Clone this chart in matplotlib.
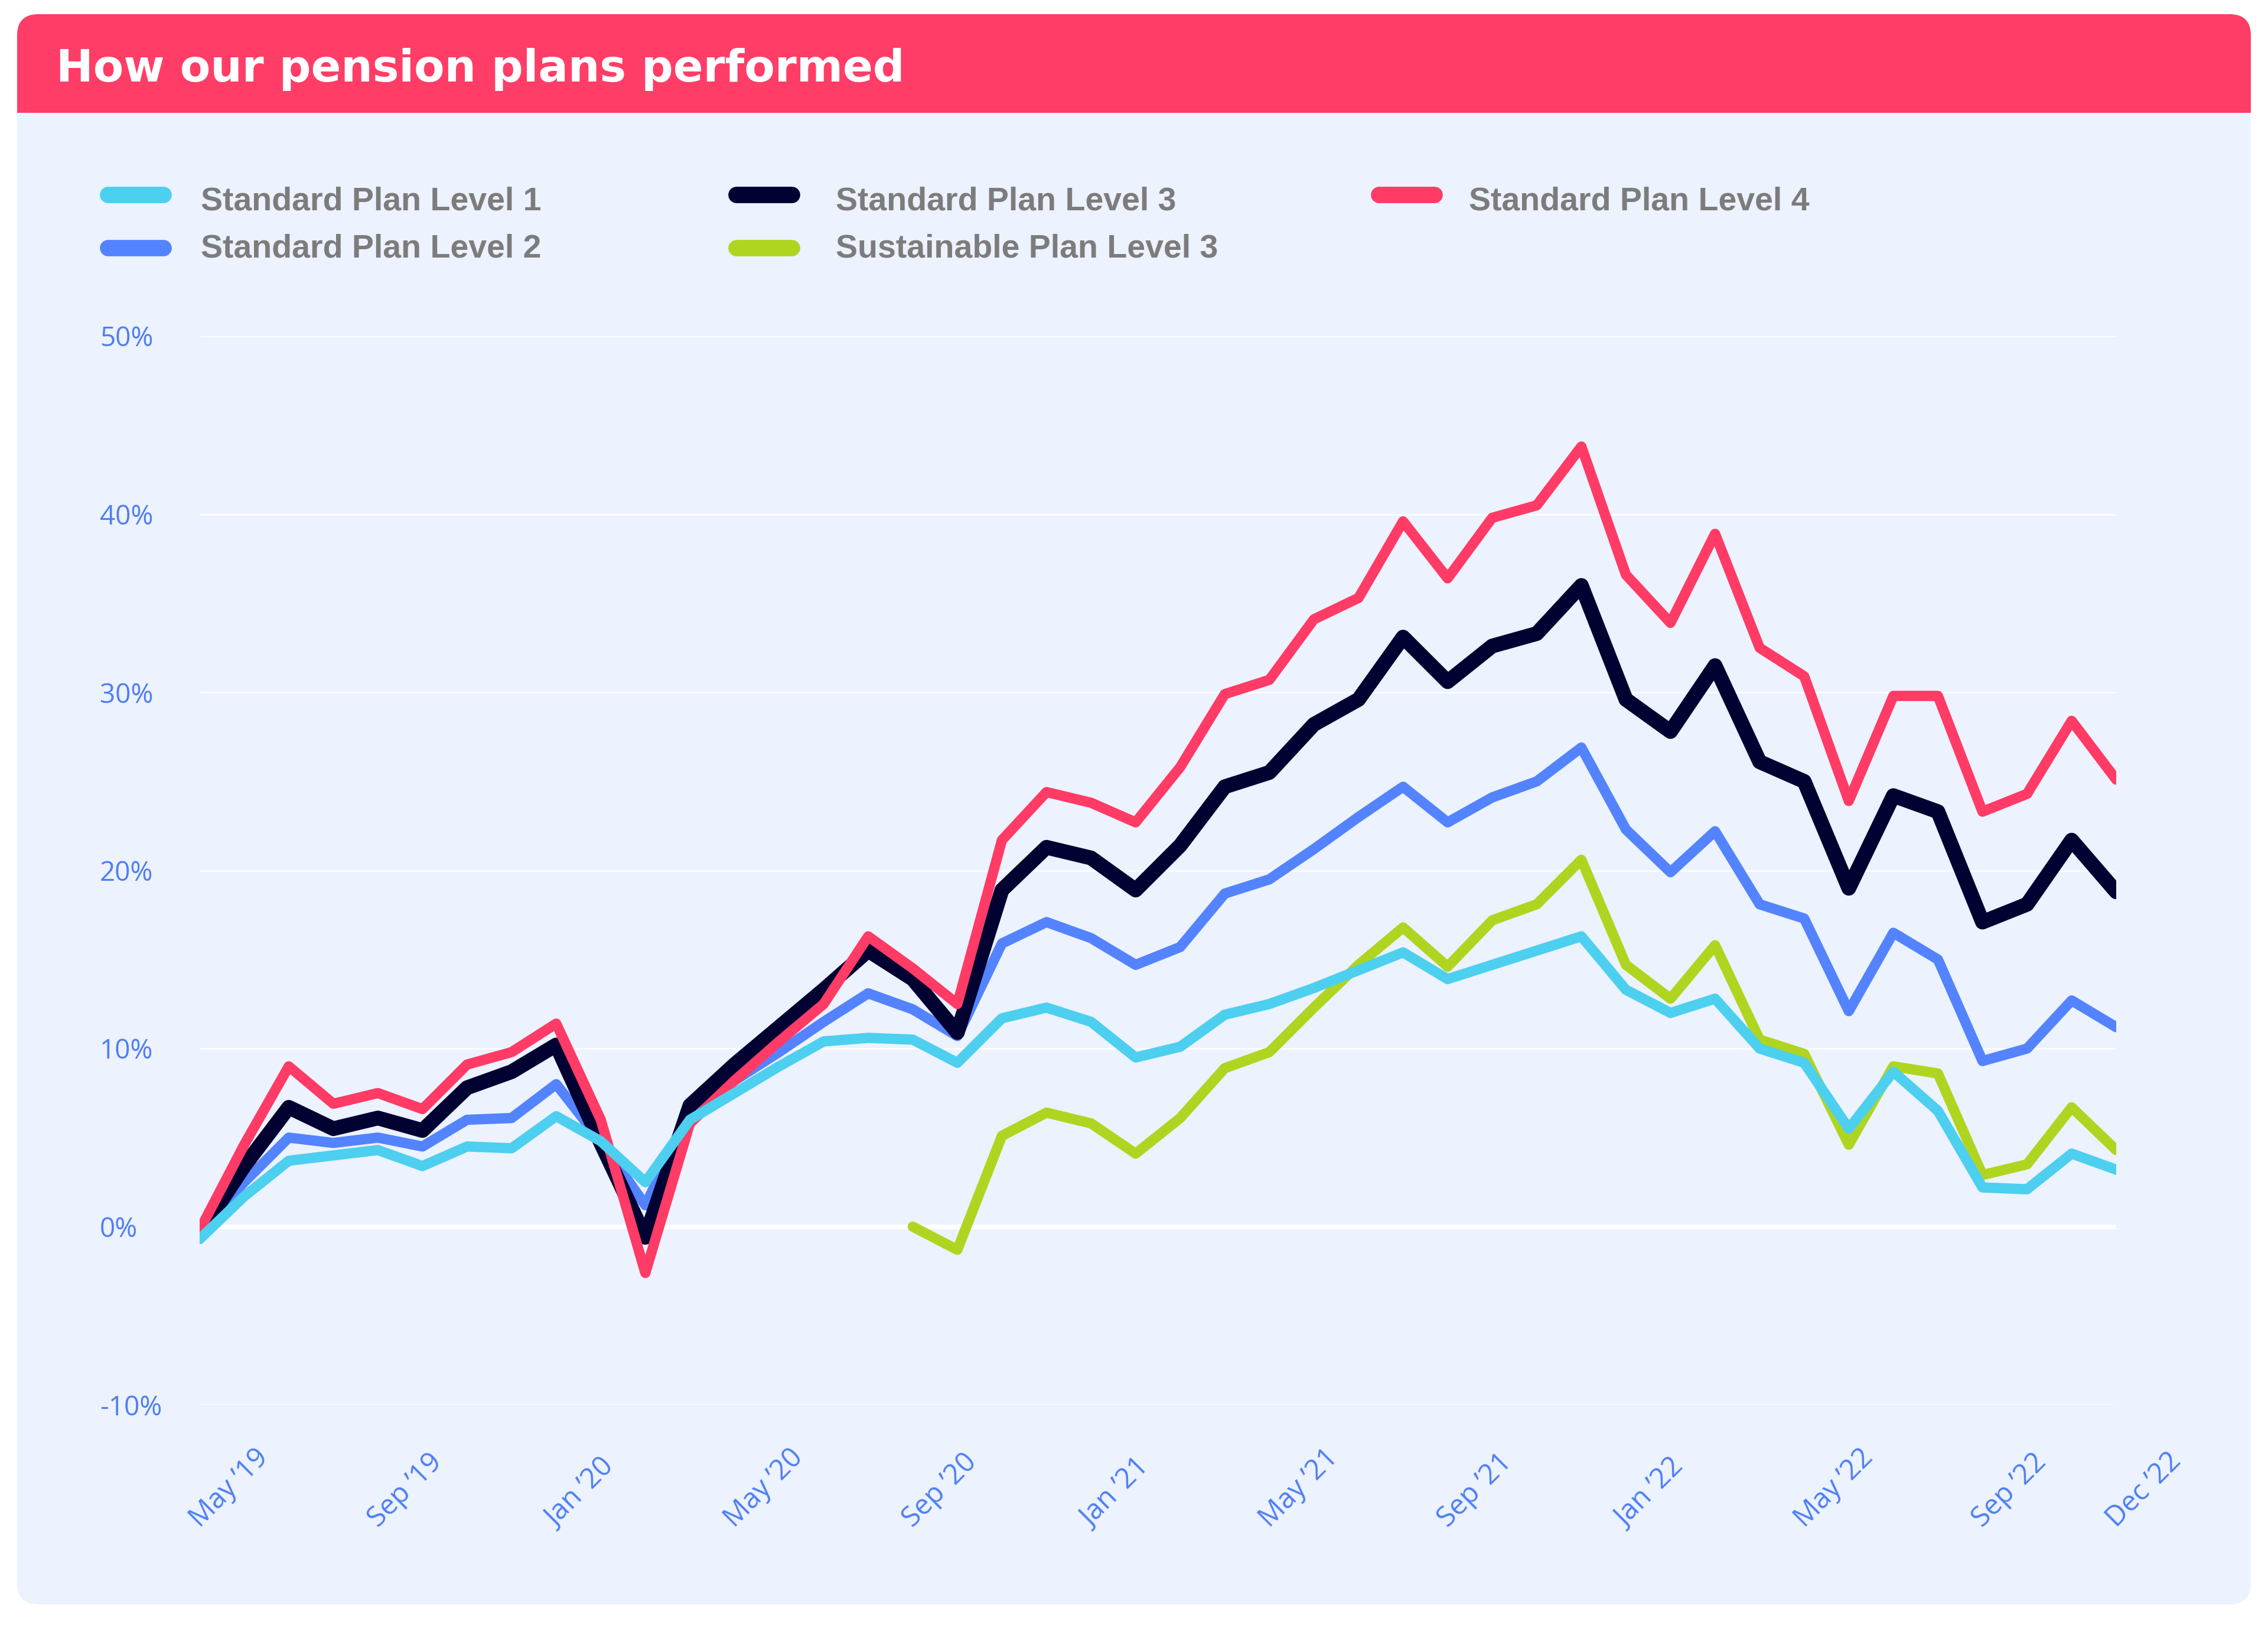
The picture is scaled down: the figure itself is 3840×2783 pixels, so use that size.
import numpy as np
import matplotlib
matplotlib.use('Agg')
import matplotlib.pyplot as plt
from matplotlib.patches import FancyBboxPatch, Rectangle
from matplotlib.lines import Line2D

# monthly values, May '19 .. Dec '22 (44 points), in %
months = ["May ’19", "Jun ’19", "Jul ’19", "Aug ’19", "Sep ’19", "Oct ’19", "Nov ’19", "Dec ’19",
          "Jan ’20", "Feb ’20", "Mar ’20", "Apr ’20", "May ’20", "Jun ’20", "Jul ’20", "Aug ’20",
          "Sep ’20", "Oct ’20", "Nov ’20", "Dec ’20", "Jan ’21", "Feb ’21", "Mar ’21", "Apr ’21",
          "May ’21", "Jun ’21", "Jul ’21", "Aug ’21", "Sep ’21", "Oct ’21", "Nov ’21", "Dec ’21",
          "Jan ’22", "Feb ’22", "Mar ’22", "Apr ’22", "May ’22", "Jun ’22", "Jul ’22", "Aug ’22",
          "Sep ’22", "Oct ’22", "Nov ’22", "Dec ’22"]
tick_months = ["May ’19", "Sep ’19", "Jan ’20", "May ’20", "Sep ’20", "Jan ’21",
               "May ’21", "Sep ’21", "Jan ’22", "May ’22", "Sep ’22", "Dec ’22"]

level1 = [-0.7, 1.7, 3.7, 4.0, 4.3, 3.4, 4.5, 4.4, 6.2, 4.8, 2.5, 6.0, 7.5, 9.0, 10.4, 10.6,
          10.5, 9.2, 11.7, 12.3, 11.5, 9.5, 10.1, 11.9, 12.5, 13.4, 14.4, 15.4, 13.9, 14.7, 15.5, 16.3,
          13.3, 12.0, 12.8, 10.0, 9.2, 5.5, 8.7, 6.5, 2.2, 2.1, 4.1, 3.2]
level2 = [-0.3, 2.5, 5.0, 4.7, 5.0, 4.5, 6.0, 6.1, 8.0, 4.8, 1.2, 6.4, 8.2, 9.8, 11.5, 13.1,
          12.2, 10.7, 15.9, 17.1, 16.2, 14.7, 15.7, 18.7, 19.5, 21.2, 23.0, 24.7, 22.7, 24.1, 25.0, 26.9,
          22.3, 19.9, 22.2, 18.1, 17.3, 12.1, 16.5, 15.0, 9.3, 10.0, 12.7, 11.2]
level3 = [-0.4, 3.4, 6.7, 5.5, 6.1, 5.4, 7.8, 8.7, 10.2, 4.7, -0.6, 6.8, 9.1, 11.2, 13.3, 15.5,
          13.9, 10.9, 18.9, 21.3, 20.7, 18.9, 21.4, 24.7, 25.5, 28.2, 29.6, 33.1, 30.6, 32.6, 33.3, 36.0,
          29.6, 27.8, 31.5, 26.1, 25.0, 19.0, 24.2, 23.3, 17.1, 18.1, 21.7, 18.8]
level4 = [-0.2, 4.6, 9.0, 6.9, 7.5, 6.6, 9.1, 9.8, 11.4, 6.0, -2.6, 5.8, 8.2, 10.4, 12.5, 16.3,
          14.5, 12.5, 21.7, 24.4, 23.8, 22.7, 25.8, 29.9, 30.7, 34.1, 35.3, 39.6, 36.4, 39.8, 40.5, 43.8,
          36.6, 33.9, 38.9, 32.5, 30.9, 23.9, 29.8, 29.8, 23.3, 24.3, 28.4, 25.1]
sustainable3 = [None] * 16 + [0.0, -1.3, 5.1, 6.4, 5.8, 4.1, 6.1, 8.9, 9.8, 12.3, 14.7, 16.8,
                              14.6, 17.2, 18.1, 20.6, 14.7, 12.8, 15.8, 10.5, 9.7, 4.6, 9.0, 8.6,
                              2.9, 3.5, 6.7, 4.3]

yticks = [-10, 0, 10, 20, 30, 40, 50]

CARD = '#ECF2FE'
PINK = '#FF3D67'
CYAN = '#4DCFEF'
BLUE = '#5383FF'
NAVY = '#010132'
RED = '#FF3B66'
GREEN = '#B0D520'
TICK = '#4E7EF5'
GREY = '#7C7C7C'

W, H = 3840, 2783
fig = plt.figure(figsize=(W / 100, H / 100), dpi=100)
fig.patch.set_facecolor('white')

# background card, pixel coordinates
bg = fig.add_axes([0, 0, 1, 1])
bg.set_xlim(0, W)
bg.set_ylim(H, 0)
bg.axis('off')
bg.add_patch(FancyBboxPatch((29, 24), 3782, 2692, boxstyle='round,pad=0,rounding_size=36',
                            fc=CARD, ec='none'))
bg.add_patch(FancyBboxPatch((29, 24), 3782, 167, boxstyle='round,pad=0,rounding_size=36',
                            fc=PINK, ec='none'))
bg.add_patch(Rectangle((29, 100), 3782, 91, fc=PINK, ec='none'))
bg.text(95, 138, 'How our pension plans performed', color='white', fontsize=54,
        fontweight='bold', family='DejaVu Sans', va='baseline')

# legend (column-major, 3 columns)
series = [
    ('Standard Plan Level 1', level1, CYAN, 12.5, 6),
    ('Standard Plan Level 2', level2, BLUE, 12.5, 2),
    ('Standard Plan Level 3', level3, NAVY, 18, 3),
    ('Sustainable Plan Level 3', sustainable3, GREEN, 12.5, 5),
    ('Standard Plan Level 4', level4, RED, 12.5, 4),
]
hx = [169, 1233, 2321]
tx = [340, 1415, 2487]
hy = [330, 420]
by = [356, 436]
for i, (name, vals, col, lw, z) in enumerate(series):
    c, r = i // 2, i % 2
    bg.add_line(Line2D([hx[c] + 14, hx[c] + 108], [hy[r], hy[r]], color=col, lw=20,
                       solid_capstyle='round'))
    bg.text(tx[c], by[r], name, color=GREY, fontsize=40, fontweight='bold',
            family='Liberation Sans', va='baseline')

# chart
ax = fig.add_axes([338 / W, 1 - 2378 / H, (3583 - 338) / W, (2378 - 569) / H])
ax.set_facecolor('none')
x = np.arange(len(months))
ax.set_xlim(x[0], x[-1])
ax.set_ylim(-10, 50)
for s in ax.spines.values():
    s.set_visible(False)

for v in yticks:
    ax.axhline(v, color='white', lw=5.5 if v == 0 else 1.8, zorder=1)

ax.set_yticks(yticks, labels=[f'{v}%' for v in yticks])
ax.tick_params(axis='y', length=0, pad=121.7, labelsize=33, labelcolor=TICK)
for lbl in ax.get_yticklabels():
    lbl.set_horizontalalignment('left')
    lbl.set_family('Open Sans')
ax.set_xticks([])

for name, vals, col, lw, z in series:
    y = np.array([np.nan if v is None else v for v in vals], dtype=float)
    ax.plot(x, y, color=col, lw=lw, zorder=z, solid_joinstyle='round', solid_capstyle='round')

for lab in tick_months:
    ax.annotate(lab, xy=(months.index(lab), 0), xycoords=('data', 'axes fraction'),
                xytext=(0, -209 * 0.72), textcoords='offset points', rotation=45,
                rotation_mode='anchor', ha='left', va='baseline', fontsize=34,
                color=TICK, family='Open Sans', annotation_clip=False)

fig.savefig('out.png', dpi=100, facecolor='white')
